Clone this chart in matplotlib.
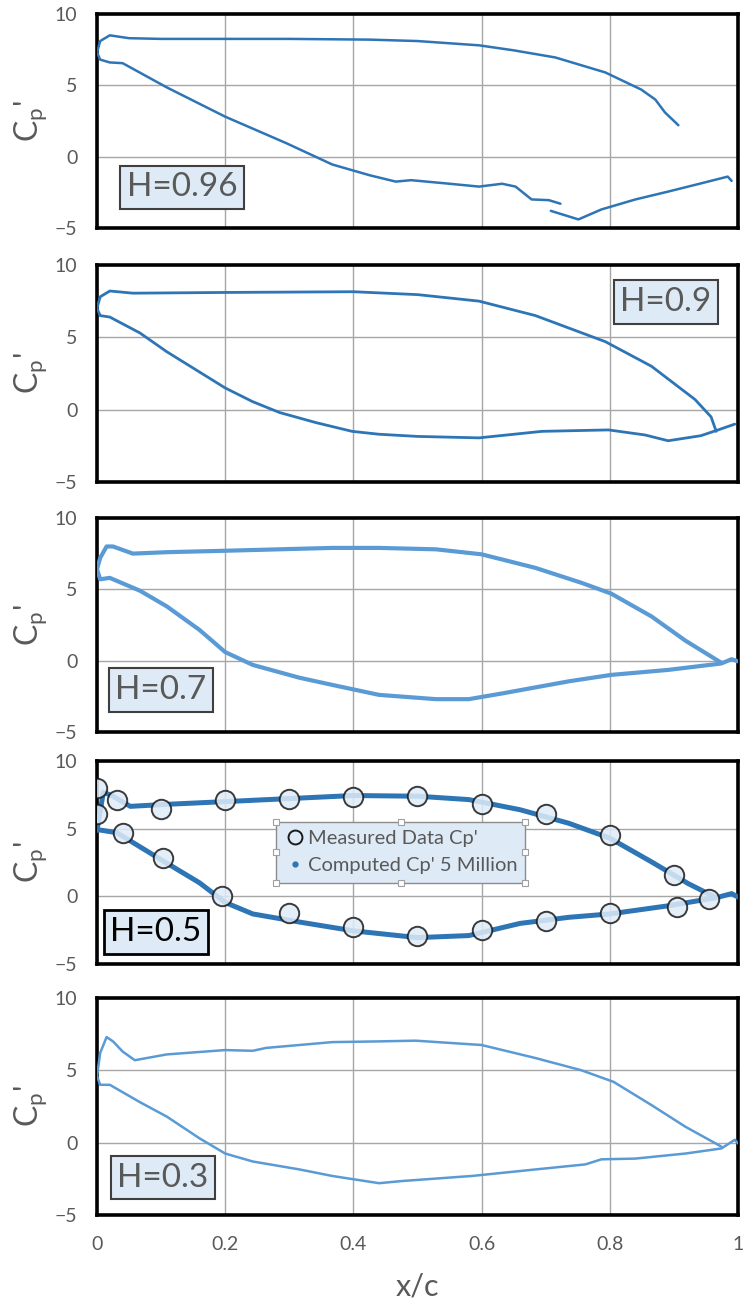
import matplotlib
matplotlib.use("Agg")
import matplotlib.pyplot as plt
from matplotlib.lines import Line2D

# ---- H = 0.96 ----
h96_up_x = [0, 0.005, 0.02, 0.05, 0.1, 0.2, 0.3, 0.425, 0.5, 0.596, 0.65, 0.715, 0.793, 0.849, 0.871, 0.886, 0.907]
h96_up_cp = [7.3, 8.1, 8.5, 8.3, 8.25, 8.25, 8.25, 8.2, 8.1, 7.8, 7.45, 6.95, 5.9, 4.7, 4.0, 3.1, 2.2]
h96_lo1_x = [0, 0.005, 0.02, 0.04, 0.109, 0.2, 0.295, 0.367, 0.425, 0.466, 0.49, 0.55, 0.596, 0.632, 0.653, 0.678, 0.705, 0.723]
h96_lo1_cp = [7.3, 6.8, 6.6, 6.55, 4.85, 2.8, 0.95, -0.55, -1.3, -1.75, -1.65, -1.9, -2.1, -1.9, -2.1, -3.0, -3.05, -3.3]
h96_lo2_x = [0.708, 0.751, 0.787, 0.84, 0.891, 0.94, 0.984, 0.99]
h96_lo2_cp = [-3.8, -4.4, -3.7, -3.0, -2.45, -1.9, -1.4, -1.7]

# ---- H = 0.9 ----
h90_up_x = [0, 0.005, 0.02, 0.056, 0.2, 0.4, 0.425, 0.5, 0.596, 0.684, 0.793, 0.865, 0.933, 0.958, 0.966]
h90_up_cp = [7.0, 7.8, 8.2, 8.05, 8.1, 8.15, 8.1, 7.95, 7.5, 6.5, 4.7, 3.0, 0.7, -0.5, -1.5]
h90_lo_x = [0, 0.005, 0.02, 0.067, 0.109, 0.16, 0.2, 0.243, 0.285, 0.342, 0.398, 0.44, 0.5, 0.596,
            0.694, 0.798, 0.855, 0.891, 0.942, 0.969, 0.995]
h90_lo_cp = [7.0, 6.5, 6.4, 5.3, 4.0, 2.6, 1.5, 0.55, -0.2, -0.9, -1.5, -1.7, -1.85, -1.95,
             -1.5, -1.4, -1.75, -2.15, -1.8, -1.4, -1.0]

# ---- H = 0.7 ----
h70_up_x = [0, 0.005, 0.015, 0.025, 0.056, 0.109, 0.2, 0.367, 0.44, 0.529, 0.6, 0.684, 0.756, 0.802, 0.865, 0.918, 0.974]
h70_up_cp = [6.4, 7.2, 8.0, 8.0, 7.5, 7.6, 7.7, 7.9, 7.9, 7.8, 7.45, 6.5, 5.45, 4.7, 3.1, 1.4, -0.15]
h70_lo_x = [0, 0.005, 0.02, 0.067, 0.109, 0.16, 0.2, 0.243, 0.316, 0.367, 0.44, 0.529, 0.58, 0.632,
            0.736, 0.802, 0.891, 0.974, 0.99, 1.0]
h70_lo_cp = [6.4, 5.7, 5.8, 4.9, 3.8, 2.15, 0.6, -0.3, -1.2, -1.7, -2.4, -2.7, -2.7, -2.3,
             -1.45, -1.0, -0.65, -0.2, 0.1, -0.05]

# ---- H = 0.5 ----
h50_up_x = [0, 0.01, 0.025, 0.052, 0.109, 0.2, 0.4, 0.5, 0.58, 0.66, 0.736, 0.8, 0.865, 0.922, 0.966]
h50_up_cp = [4.9, 7.7, 7.4, 6.65, 6.8, 7.0, 7.45, 7.4, 7.15, 6.4, 5.4, 4.3, 2.55, 0.95, -0.1]
h50_lo_x = [0, 0.005, 0.031, 0.109, 0.16, 0.2, 0.243, 0.316, 0.4, 0.5, 0.58, 0.66, 0.736, 0.8,
            0.891, 0.966, 0.99, 1.0]
h50_lo_cp = [4.9, 4.9, 4.7, 2.45, 1.0, -0.45, -1.3, -1.9, -2.55, -3.05, -2.9, -2.0, -1.55, -1.3,
             -0.7, -0.1, 0.2, -0.05]
h50_meas_x = [0, 0.031, 0.1, 0.2, 0.3, 0.4, 0.5, 0.6, 0.7, 0.8, 0.9,
              0, 0.04, 0.103, 0.195, 0.3, 0.4, 0.5, 0.6, 0.7, 0.8, 0.905, 0.955]
h50_meas_cp = [8.0, 7.1, 6.45, 7.1, 7.2, 7.35, 7.45, 6.85, 6.1, 4.5, 1.6,
               6.1, 4.65, 2.85, 0.05, -1.2, -2.25, -2.9, -2.5, -1.85, -1.25, -0.8, -0.2]

# ---- H = 0.3 ----
h30_up_x = [0, 0.005, 0.015, 0.025, 0.04, 0.059, 0.109, 0.2, 0.243, 0.264, 0.367, 0.44, 0.497, 0.6,
            0.684, 0.756, 0.806, 0.865, 0.918, 0.974]
h30_up_cp = [4.6, 6.2, 7.3, 7.0, 6.3, 5.7, 6.1, 6.4, 6.35, 6.55, 6.95, 7.0, 7.05, 6.75,
             5.85, 5.0, 4.2, 2.6, 1.1, -0.27]
h30_lo_x = [0, 0.005, 0.02, 0.067, 0.109, 0.16, 0.2, 0.243, 0.316, 0.367, 0.44, 0.476, 0.585, 0.684,
            0.762, 0.787, 0.84, 0.918, 0.974, 0.995, 1.0]
h30_lo_cp = [4.6, 4.0, 4.0, 2.8, 1.8, 0.3, -0.75, -1.3, -1.85, -2.3, -2.8, -2.65, -2.3, -1.85,
             -1.5, -1.15, -1.1, -0.75, -0.4, 0.2, -0.05]

h_labels = ["H=0.96", "H=0.9", "H=0.7", "H=0.5", "H=0.3"]
x_ticks = [0, 0.2, 0.4, 0.6, 0.8, 1]
x_tick_labels = ["0", "0.2", "0.4", "0.6", "0.8", "1"]
y_ticks = [-5, 0, 5, 10]

DARK = "#2E75B6"
LIGHT = "#5B9BD5"
GREY = "#595959"

plt.rcParams["font.family"] = ["Lato", "DejaVu Sans"]
plt.rcParams["mathtext.default"] = "regular"

fig = plt.figure(figsize=(7.5, 13.02), dpi=100)

left, width = 0.1293, 0.8547
rects = [
    (left, 0.8249, width, 0.1644),
    (left, 0.6298, width, 0.1667),
    (left, 0.4378, width, 0.1644),
    (left, 0.2596, width, 0.1559),
    (left, 0.0668, width, 0.1667),
]

panels = [
    dict(curves=[(h96_up_x, h96_up_cp), (h96_lo1_x, h96_lo1_cp), (h96_lo2_x, h96_lo2_cp)],
         color=DARK, lw=1.8, label_pos=(0.133, 0.19)),
    dict(curves=[(h90_up_x, h90_up_cp), (h90_lo_x, h90_lo_cp)],
         color=DARK, lw=2.0, label_pos=(0.8875, 0.83)),
    dict(curves=[(h70_up_x, h70_up_cp), (h70_lo_x, h70_lo_cp)],
         color=LIGHT, lw=3.0, label_pos=(0.100, 0.196)),
    dict(curves=[(h50_up_x, h50_up_cp), (h50_lo_x, h50_lo_cp)],
         color=DARK, lw=3.6, label_pos=(0.092, 0.157)),
    dict(curves=[(h30_up_x, h30_up_cp), (h30_lo_x, h30_lo_cp)],
         color=LIGHT, lw=1.8, label_pos=(0.103, 0.172)),
]

axes = []
for i, (rect, p) in enumerate(zip(rects, panels)):
    ax = fig.add_axes(rect)
    axes.append(ax)
    for xs, ys in p["curves"]:
        ax.plot(xs, ys, color=p["color"], lw=p["lw"], solid_capstyle="round",
                solid_joinstyle="round", zorder=3)
    ax.set_xlim(0, 1)
    ax.set_ylim(-5, 10)
    ax.set_xticks(x_ticks)
    ax.set_yticks(y_ticks)
    ax.grid(True, color="#A6A6A6", lw=1.0, zorder=0)
    ax.set_axisbelow(True)
    for s in ax.spines.values():
        s.set_color("black")
        s.set_linewidth(2.6)
    ax.tick_params(length=0, labelsize=14, labelcolor=GREY, pad=14)
    ax.set_ylabel("C$_p$'", fontsize=23, color=GREY, labelpad=4)
    if i < 4:
        ax.set_xticklabels([])
    else:
        ax.set_xticklabels(x_tick_labels)
        ax.tick_params(axis="x", pad=15)
        ax.set_xlabel("x/c", fontsize=22, color=GREY, labelpad=14)
    is_h50 = (i == 3)
    ax.text(p["label_pos"][0], p["label_pos"][1], h_labels[i], transform=ax.transAxes,
            ha="center", va="center", fontsize=24,
            color="black" if is_h50 else GREY, zorder=6,
            bbox=dict(boxstyle="square,pad=0.2", fc="#DEEBF7",
                      ec="black" if is_h50 else "#3F3F3F", lw=2.0 if is_h50 else 1.5))

# measured points and legend on H=0.5 panel
ax4 = axes[3]
ax4.plot(h50_meas_x, h50_meas_cp, ls="none", marker="o", ms=14, mfc="#DEEBF7",
         mec="#1A1A1A", mew=1.4, alpha=0.85, zorder=4)
handles = [
    Line2D([], [], ls="none", marker="o", ms=10, mfc="none", mec="#1A1A1A", mew=1.4),
    Line2D([], [], ls="none", marker="o", ms=3.5, mfc=DARK, mec=DARK),
]
leg = ax4.legend(handles, ["Measured Data Cp'", "Computed Cp' 5 Million"],
                 loc="center", bbox_to_anchor=(0.4735, 0.55), fontsize=14.5,
                 frameon=True, fancybox=False, facecolor="#DEEBF7", edgecolor="#8C8C8C",
                 framealpha=1.0, handletextpad=0.1, handlelength=1.1, borderpad=0.4,
                 labelspacing=0.5, borderaxespad=0)
for t in leg.get_texts():
    t.set_color(GREY)
leg.get_frame().set_linewidth(1.0)
leg.set_zorder(7)

# selection handles around the legend box (as in the source screenshot)
fig.canvas.draw()
bb = leg.get_window_extent().transformed(fig.transFigure.inverted())
hx = [bb.x0, (bb.x0 + bb.x1) / 2, bb.x1]
hy = [bb.y0, (bb.y0 + bb.y1) / 2, bb.y1]
for xx in hx:
    for yy in hy:
        if xx == hx[1] and yy == hy[1]:
            continue
        fig.add_artist(Line2D([xx], [yy], transform=fig.transFigure, ls="none", marker="s",
                              ms=4.5, mfc="white", mec="#A0A0A0", mew=0.8, zorder=10))

fig.savefig("out.png", dpi=100)
plt.close(fig)
